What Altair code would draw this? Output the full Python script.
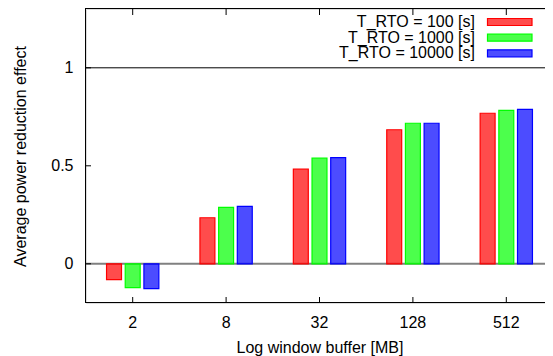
import altair as alt
import pandas as pd

categories = ["2", "8", "32", "128", "512"]
series = ["T_RTO = 100 [s]", "T_RTO = 1000 [s]", "T_RTO = 10000 [s]"]
colors = ["#ff0000", "#00ff00", "#0000ff"]
rto_100 = [-0.081, 0.235, 0.483, 0.684, 0.768]
rto_1000 = [-0.122, 0.288, 0.539, 0.717, 0.783]
rto_10000 = [-0.127, 0.293, 0.542, 0.717, 0.788]
y_ticks = [0, 0.5, 1]

FONT = "Liberation Sans"
FS = 16
W, H = 467, 294

rows = []
for s, vals in zip(series, [rto_100, rto_1000, rto_10000]):
    for c, v in zip(categories, vals):
        rows.append({"cat": c, "series": s, "value": v})
df = pd.DataFrame(rows)
ticks_df = pd.DataFrame({"v": y_ticks})
cats_df = pd.DataFrame({"cat": categories})
leg_df = pd.DataFrame({"series": series})

ydom = alt.Scale(domain=[-0.2, 1.3], nice=False, zero=False)
xscale = alt.Scale(domain=categories, paddingInner=0.4, paddingOuter=0.2)
cscale = alt.Scale(domain=series, range=colors)

xaxis = alt.Axis(title="Log window buffer [MB]", labelAngle=0, ticks=False, domain=False,
                 labelPadding=19, labelBaseline="middle", labelFont=FONT, labelFontSize=FS,
                 labelColor="black", titleFont=FONT, titleFontSize=FS, titleFontWeight="normal",
                 titleColor="black", titleY=44, titleBaseline="middle")
yaxis = alt.Axis(title="Average power reduction effect", values=y_ticks, format="~g", ticks=False,
                 domain=False, grid=False, labelPadding=13, labelFont=FONT, labelFontSize=FS,
                 labelColor="black", titleFont=FONT, titleFontSize=FS, titleFontWeight="normal",
                 titleColor="black", titleAngle=-90, titleX=-66, titleY=H / 2,
                 titleBaseline="middle", titleAlign="center")

X = alt.X("cat:N", sort=categories, scale=xscale, axis=xaxis, title="Log window buffer [MB]")


def Y(field):
    return alt.Y(field, scale=ydom, axis=yaxis, title="Average power reduction effect")


zero_line = alt.Chart(pd.DataFrame({"v": [0]})).mark_rule(color="#808080", strokeWidth=2).encode(
    y=Y("v:Q"), x=alt.value(0), x2=alt.value(W))
one_line = alt.Chart(pd.DataFrame({"v": [1]})).mark_rule(color="black", strokeWidth=1).encode(
    y=Y("v:Q"), x=alt.value(0), x2=alt.value(W))

bars = alt.Chart(df).mark_bar(fillOpacity=0.7, strokeWidth=1.2).encode(
    x=X,
    xOffset=alt.XOffset("series:N", sort=series,
                        scale=alt.Scale(paddingInner=0.2, paddingOuter=0.1)),
    y=Y("value:Q"),
    y2=alt.datum(0),
    fill=alt.Fill("series:N", scale=cscale, legend=None),
    stroke=alt.Stroke("series:N", scale=cscale, legend=None),
)

ytick_l = alt.Chart(ticks_df).mark_rule(color="black").encode(
    y=Y("v:Q"), x=alt.value(0), x2=alt.value(5))
ytick_r = alt.Chart(ticks_df).mark_rule(color="black").encode(
    y=Y("v:Q"), x=alt.value(W - 5), x2=alt.value(W))
xtick_b = alt.Chart(cats_df).mark_rule(color="black").encode(
    x=X, y=alt.value(H), y2=alt.value(H - 6))
xtick_t = alt.Chart(cats_df).mark_rule(color="black").encode(
    x=X, y=alt.value(0), y2=alt.value(6))

# plot frame (crisp 1px lines)
frame_l = alt.Chart(cats_df).mark_rule(color="black").encode(
    x=alt.value(-0.5), y=alt.value(-0.5), y2=alt.value(H - 0.5))
frame_t = alt.Chart(cats_df).mark_rule(color="black").encode(
    x=alt.value(-0.5), x2=alt.value(W), y=alt.value(-0.5))
frame_b = alt.Chart(cats_df).mark_rule(color="black").encode(
    x=alt.value(-0.5), x2=alt.value(W), y=alt.value(H - 0.5))

main = alt.layer(zero_line, one_line, bars, ytick_l, ytick_r, xtick_b, xtick_t,
                 frame_l, frame_t, frame_b)

leg_y = alt.Y("series:N", sort=series, scale=alt.Scale(type="point", range=[13, 44.3], padding=0),
              axis=None)
leg_text = alt.Chart(leg_df).mark_text(align="right", baseline="middle", font=FONT, fontSize=FS,
                                       color="black").encode(
    y=leg_y, x=alt.value(389), text="series:N")
leg_rect = alt.Chart(leg_df).mark_rect(height=7, fillOpacity=0.7, strokeWidth=1.2).encode(
    y=leg_y, x=alt.value(401.5), x2=alt.value(446),
    fill=alt.Fill("series:N", scale=cscale, legend=None),
    stroke=alt.Stroke("series:N", scale=cscale, legend=None))
legend = alt.layer(leg_text, leg_rect)

chart = alt.layer(main, legend).resolve_scale(y="independent").properties(
    width=W, height=H,
    autosize=alt.AutoSizeParams(type="none"),
    padding={"left": 78, "top": 1, "right": -8, "bottom": 53},
).configure_view(stroke="transparent").configure(background="white")

chart.save("out.html", embed_options={"renderer": "svg", "actions": False})
